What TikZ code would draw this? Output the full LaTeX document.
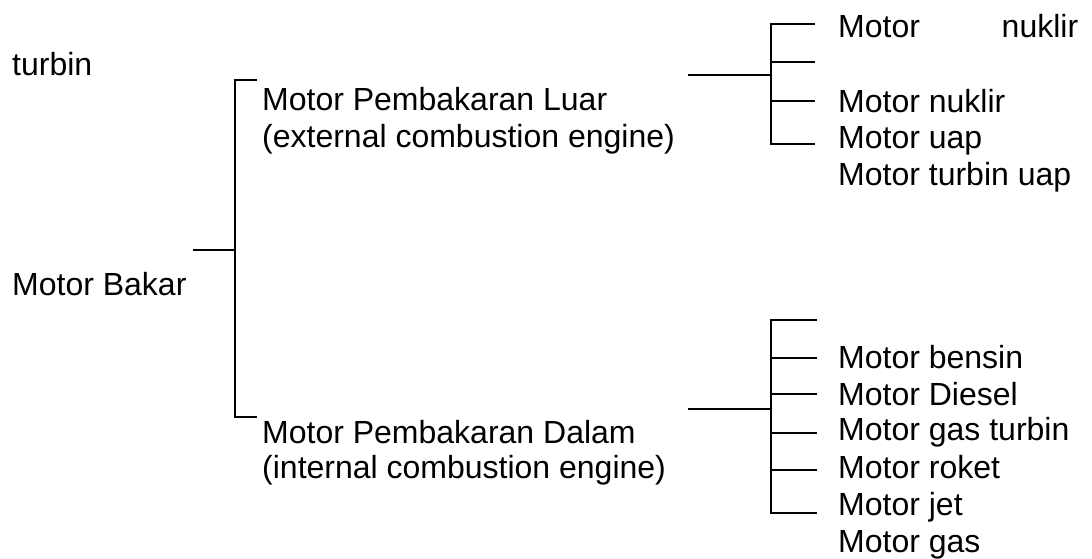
\documentclass[tikz,border=0pt]{standalone}
\usepackage{fontspec}
\setmainfont{Liberation Sans}
\usepackage{tikz}
\usetikzlibrary{positioning}

\tikzset{
    lbl/.style={anchor=base west, inner sep=0pt, font=\fontsize{32}{37}\selectfont},
    brk/.style={line width=1.6pt}
}

\begin{document}
\begin{tikzpicture}[x=1pt, y=-1pt]
        \useasboundingbox (0,0) rectangle (1092,558);
        % Teks kiri
        \node[lbl] (turbin) at (12,75) {turbin};
        \node[lbl] (bakar) at (12,295) {Motor Bakar};
        % Cabang utama
        \node[lbl] (luar) at (262,110) {Motor Pembakaran Luar};
        \node[lbl] (luarEn) at (262,147) {(external combustion engine)};
        \node[lbl] (dalam) at (262,443) {Motor Pembakaran Dalam};
        \node[lbl] (dalamEn) at (262,478) {(internal combustion engine)};
        % Motor pembakaran luar
        \node[lbl] (nuklirA) at (838,37) {\hbox to 240pt{Motor\hfill nuklir}};
        \node[lbl] (nuklirB) at (838,112) {Motor nuklir};
        \node[lbl] (uap) at (838,148) {Motor uap};
        \node[lbl] (turbinUap) at (838,185) {Motor turbin uap};
        % Motor pembakaran dalam
        \node[lbl] (bensin) at (838,368) {Motor bensin};
        \node[lbl] (diesel) at (838,405) {Motor Diesel};
        \node[lbl] (gasTurbin) at (838,440) {Motor gas turbin};
        \node[lbl] (roket) at (838,478) {Motor roket};
        \node[lbl] (jet) at (838,515) {Motor jet};
        \node[lbl] (gas) at (838,552) {Motor gas};
        % Kurung kiri
        \coordinate (bakarEnd) at (193,250);
        \coordinate (bakarJoin) at (235,250);
        \coordinate (luarTop) at (235,80);
        \coordinate (luarTick) at (257,80);
        \coordinate (dalamBot) at (235,417);
        \coordinate (dalamTick) at (257,417);
        \draw[brk] (bakarEnd) -- (bakarJoin);
        \draw[brk] (luarTick) -- (luarTop) -- (dalamBot) -- (dalamTick);
        % Kurung kanan atas
        \coordinate (luarEnd) at (688,75);
        \coordinate (luarJoin) at (771,75);
        \draw[brk] (luarEnd) -- (luarJoin);
        \draw[brk] (815,24) -- (771,24) -- (771,144) -- (815,144);
        \foreach \yy in {62,101}
            \draw[brk] (771,\yy) -- (815,\yy);
        % Kurung kanan bawah
        \coordinate (dalamEnd) at (688,409);
        \coordinate (dalamJoin) at (771,409);
        \draw[brk] (dalamEnd) -- (dalamJoin);
        \draw[brk] (817,320) -- (771,320) -- (771,513) -- (817,513);
        \foreach \yy in {358,394,433,470}
            \draw[brk] (771,\yy) -- (817,\yy);
\end{tikzpicture}
\end{document}
